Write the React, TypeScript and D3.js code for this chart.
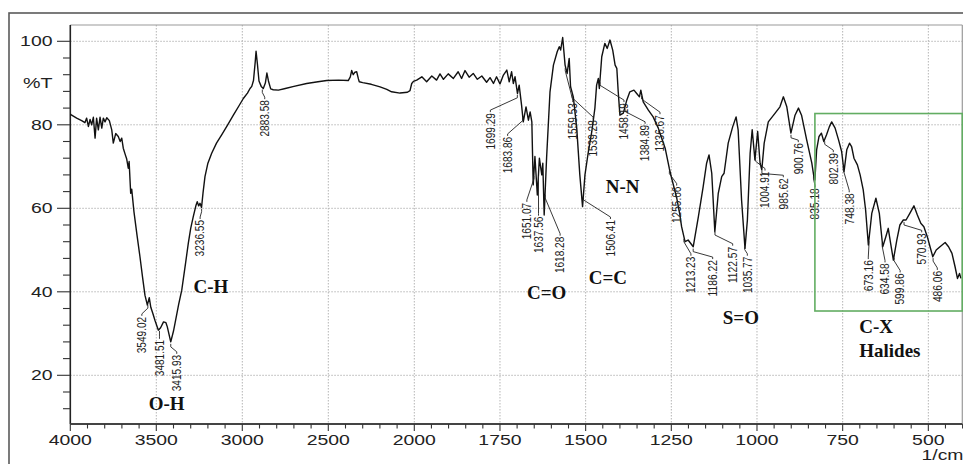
import React from "react";
import * as d3 from "d3";

// ---- Spectrum data (wavenumber 1/cm, %T) ----
const wavenumbers = [
  4000, 3992, 3963, 3934, 3915, 3905, 3895, 3885, 3876, 3866, 3856, 3847, 3837, 3827, 3817, 3808, 3798, 3788, 3773,
  3759, 3750, 3736, 3721, 3710, 3701, 3692, 3680, 3672, 3663, 3658, 3649, 3643, 3630, 3612, 3595, 3580, 3566, 3552,
  3541, 3532, 3520, 3508, 3488, 3475, 3458, 3444, 3436, 3416, 3400, 3391, 3370, 3352, 3330, 3314, 3300, 3285, 3270,
  3262, 3254, 3246, 3237, 3228, 3217, 3200, 3178, 3150, 3120, 3085, 3052, 3020, 2994, 2970, 2955, 2945, 2935, 2925,
  2920, 2912, 2903, 2890, 2878, 2866, 2857, 2848, 2835, 2820, 2790, 2750, 2700, 2626, 2560, 2509, 2440, 2384, 2372,
  2364, 2355, 2345, 2335, 2325, 2320, 2300, 2250, 2199, 2160, 2132, 2083, 2040, 2025, 2015, 2005, 1993, 1978, 1964,
  1949, 1935, 1925, 1915, 1901, 1886, 1872, 1862, 1852, 1840, 1828, 1816, 1803, 1789, 1779, 1769, 1760, 1750, 1740,
  1730, 1723, 1716, 1711, 1706, 1699, 1694, 1687, 1682, 1674, 1667, 1662, 1657, 1653, 1648, 1641, 1635, 1628, 1625,
  1621, 1614, 1604, 1594, 1583, 1577, 1573, 1567, 1560, 1554, 1548, 1544, 1536, 1526, 1517, 1509, 1502, 1492, 1482,
  1473, 1468, 1463, 1460, 1453, 1444, 1437, 1429, 1421, 1414, 1409, 1405, 1400, 1390, 1380, 1371, 1359, 1351, 1343,
  1339, 1332, 1317, 1303, 1288, 1268, 1256, 1249, 1234, 1225, 1220, 1210, 1201, 1186, 1171, 1157, 1147, 1140, 1132,
  1123, 1113, 1103, 1096, 1084, 1071, 1061, 1055, 1045, 1035, 1028, 1020, 1014, 1006, 998, 991, 986, 979, 967, 947,
  933, 923, 913, 901, 889, 879, 870, 855, 840, 834, 831, 826, 819, 812, 805, 797, 789, 782, 772, 762, 753, 746, 738,
  730, 724, 717, 707, 699, 690, 683, 675, 665, 653, 643, 633, 624, 617, 610, 602, 592, 583, 573, 565, 554, 542, 532,
  522, 513, 503, 495, 487, 477, 466, 451, 441, 431, 422, 415, 409, 405,
];
const transmittance = [
  82.6, 82.3, 81.6, 81.0, 80.5, 81.6, 79.6, 81.3, 80.0, 81.8, 76.8, 81.6, 78.8, 81.8, 79.2, 81.6, 80.7, 81.7, 81.0,
  78.8, 75.6, 77.9, 77.2, 76.0, 76.8, 74.4, 72.8, 71.8, 69.6, 71.2, 63.6, 64.6, 59.2, 53.5, 48.4, 43.5, 39.2, 36.8,
  38.6, 36.3, 34.8, 33.2, 30.8, 31.4, 32.8, 32.6, 31.6, 28.0, 30.6, 32.5, 37.0, 40.4, 46.8, 51.6, 55.2, 58.0, 60.6,
  61.6, 60.6, 61.2, 60.2, 63.8, 67.6, 70.8, 73.2, 75.6, 77.6, 80.0, 82.3, 84.5, 86.3, 87.6, 88.7, 89.2, 90.6, 95.0,
  97.6, 94.5, 90.5, 89.2, 88.7, 90.0, 92.4, 90.5, 88.6, 88.4, 88.3, 88.7, 89.2, 89.9, 90.3, 90.6, 90.7, 90.6, 91.5,
  93.0, 92.0, 92.6, 92.7, 91.0, 90.3, 90.1, 89.7, 89.1, 88.5, 87.9, 87.6, 87.8, 88.2, 89.9, 90.4, 90.7, 91.5, 90.3,
  91.7, 90.7, 92.2, 90.9, 92.2, 91.1, 92.7, 91.1, 93.0, 91.4, 92.3, 90.9, 91.7, 90.2, 91.3, 89.9, 91.5, 89.8, 91.9,
  93.1, 90.3, 92.7, 89.9, 91.5, 87.5, 89.5, 84.7, 80.7, 84.3, 81.1, 83.1, 80.7, 65.6, 72.4, 63.2, 72.0, 68.0, 70.8,
  58.4, 72.0, 87.9, 94.3, 97.5, 98.7, 97.9, 100.9, 94.3, 92.3, 95.9, 89.1, 86.7, 79.2, 68.0, 60.4, 68.0, 73.6, 78.4,
  84.0, 89.5, 91.1, 88.7, 96.3, 99.5, 98.3, 100.3, 97.9, 94.3, 93.5, 88.0, 82.3, 82.8, 85.9, 87.9, 88.3, 87.5, 86.7,
  88.3, 85.5, 83.5, 81.9, 79.2, 74.4, 69.6, 67.2, 62.4, 58.4, 55.6, 52.0, 52.4, 50.8, 58.0, 65.2, 70.8, 72.8, 68.4,
  54.4, 63.6, 67.6, 68.4, 75.6, 79.5, 81.9, 78.8, 62.0, 50.4, 57.2, 73.2, 78.8, 71.6, 78.4, 70.8, 69.2, 75.6, 80.7, 82.8,
  84.3, 86.7, 84.3, 78.0, 82.3, 84.0, 82.3, 76.4, 70.8, 67.6, 66.8, 74.0, 77.2, 78.0, 76.0, 77.6, 79.5, 80.7, 79.2, 76.4, 73.6, 68.8, 74.0,
  75.6, 74.8, 72.0, 70.4, 68.0, 64.4, 59.6, 51.2, 58.8, 62.4, 58.8, 50.8, 53.2, 55.2, 51.6, 47.6, 52.4, 56.0, 57.2, 57.2, 58.8, 60.6, 58.4,
  56.4, 55.6, 53.2, 50.8, 48.4, 50.0, 50.8, 51.8, 50.8, 49.2, 46.0, 43.2, 44.4, 43.2,
];

// ---- Axis ticks ----
const xTickValues = [4000, 3500, 3000, 2500, 2000, 1750, 1500, 1250, 1000, 750, 500];
const yTickValues = [100, 80, 60, 40, 20];
const yAxisTitle = "%T";
const xAxisUnit = "1/cm";

// ---- Peak labels ----
const peakLabels = [
  "3549.02", "3481.51", "3415.93", "3236.55", "2883.58", "1699.29", "1683.86", "1651.07", "1637.56", "1618.28",
  "1559.53", "1539.28", "1506.41", "1458.19", "1384.89", "1336.67", "1255.66", "1213.23", "1186.22", "1122.57",
  "1035.77", "1004.91", "985.62", "900.76", "835.18", "802.39", "748.38", "673.16", "634.58", "599.86", "570.93", "486.06",
];
// layout: horizontal offset (px) of the label from the peak, and the %T level of the label's top end
const peakLabelDx = [-6, 0, 6, -1.5, 2.4, -27, -15, -7, 0, 15, 7.5, 21, 27, 24, 20, 18.4, 7.3, 7, 19.5, 17.7, 2.6, 9.7, 21.4, 7.3, 1.5, 8.6, 6, -0.7, 2.8, 6, 17.7, 4.2];
const peakLabelTopT = [34.0, 28.5, 24.9, 57.2, 85.9, 82.8, 77.1, 61.3, 58.0, 53.2, 85.2, 81.1, 57.2, 85.2, 80.0, 82.3, 65.2, 48.4, 47.6, 50.8, 48.4, 68.8, 67.2, 75.6, 64.8, 73.2, 63.6, 47.6, 46.8, 44.4, 54.0, 45.0];

// ---- Functional group annotations ----
const groupNames = ["O-H", "C-H", "C=O", "C=C", "N-N", "S=O", "C-X", "Halides"];
const groupWn = [3440, 3183, 1614, 1435, 1392, 1047, 701.5, 701.5];
const groupT = [11.7, 39.6, 38.2, 41.9, 63.6, 32.3, 30.1, 24.5];
const groupAnchor = ["middle", "middle", "middle", "middle", "middle", "middle", "start", "start"];

// Highlight region (halides)
const halideBoxWn = [831, 401];
const halideBoxT = [82.7, 35.4];

const W = 963;
const H = 464;

export default function App() {
  const x = d3.scaleLinear().domain([4000, 2000, 400]).range([70.3, 414.3, 962.6]);
  const y = d3.scaleLinear().domain([100, 20]).range([41.3, 375.3]);
  const plotLeft = 70.3;
  const plotRight = 962.3;
  const plotTop = 25;
  const plotBottom = 424;

  const pts = wavenumbers.map((w, i) => [w, transmittance[i]] as [number, number]);
  const line = d3
    .line<[number, number]>()
    .x((d) => x(d[0]))
    .y((d) => y(d[1]))
    .curve(d3.curveLinear);

  const asc = pts.slice().sort((a, b) => a[0] - b[0]);
  const bis = d3.bisector((d: [number, number]) => d[0]).left;
  const tAt = (w: number) => {
    const i = Math.max(1, Math.min(asc.length - 1, bis(asc, w)));
    const a = asc[i - 1];
    const b = asc[i];
    const f = (w - a[0]) / (b[0] - a[0]);
    return a[1] + f * (b[1] - a[1]);
  };

  const minorX: number[] = [];
  for (let v = 4000; v > 2000; v -= 100) minorX.push(v);
  for (let v = 2000; v >= 400; v -= 50) minorX.push(v);
  const minorY: number[] = [];
  for (let v = 12; v <= 100; v += 4) minorY.push(v);

  const tickFont = "'Liberation Sans', Arial, sans-serif";

  return (
    <svg width={W} height={H} style={{ position: "absolute", left: 0, top: 0, display: "block", background: "#fff" }}>
      {/* outer frame */}
      <rect x={9} y={13} width={970} height={470} fill="none" stroke="#5a5a5a" strokeWidth={1.6} />

      {/* grid */}
      {xTickValues.slice(1).map((v) => (
        <line key={"gx" + v} x1={x(v)} x2={x(v)} y1={plotTop} y2={plotBottom} stroke="#b5b5b5" strokeWidth={1} strokeDasharray="1.5,1.5" />
      ))}
      {yTickValues.map((v) => (
        <line key={"gy" + v} x1={plotLeft} x2={plotRight} y1={y(v)} y2={y(v)} stroke="#b5b5b5" strokeWidth={1} strokeDasharray="1.5,1.5" />
      ))}

      {/* plot border top / right */}
      <line x1={plotLeft} x2={plotRight} y1={plotTop} y2={plotTop} stroke="#9a9a9a" strokeWidth={1.2} />
      <line x1={plotRight} x2={plotRight} y1={plotTop} y2={plotBottom} stroke="#9a9a9a" strokeWidth={1.2} />

      {/* axes */}
      <line x1={plotLeft} x2={plotLeft} y1={plotTop} y2={plotBottom} stroke="#222" strokeWidth={1.6} />
      <line x1={plotLeft} x2={plotRight} y1={plotBottom} y2={plotBottom} stroke="#444" strokeWidth={1.8} />

      {minorY.map((v) => (
        <line key={"my" + v} x1={yTickValues.includes(v) ? 57 : 63} x2={plotLeft} y1={y(v)} y2={y(v)} stroke="#333" strokeWidth={1.1} />
      ))}
      {minorX.map((v) => (
        <line key={"mx" + v} x1={x(v)} x2={x(v)} y1={plotBottom} y2={plotBottom + (xTickValues.includes(v) ? 7 : 4.5)} stroke="#333" strokeWidth={1.1} />
      ))}

      {yTickValues.map((v) => (
        <text key={"ty" + v} x={52.5} y={y(v) + 5} textAnchor="end" fontFamily={tickFont} fontSize={14} fill="#222"
          textLength={String(v).length * 10.8} lengthAdjust="spacingAndGlyphs">{v}</text>
      ))}
      <text x={52.5} y={87.5} textAnchor="end" fontFamily={tickFont} fontSize={14} fill="#222" textLength={29.5} lengthAdjust="spacingAndGlyphs">{yAxisTitle}</text>

      {xTickValues.map((v) => (
        <text key={"tx" + v} x={x(v)} y={445} textAnchor="middle" fontFamily={tickFont} fontSize={14} fill="#222"
          textLength={String(v).length * 10.8} lengthAdjust="spacingAndGlyphs">{v}</text>
      ))}
      <text x={963.5} y={460} textAnchor="end" fontFamily={tickFont} fontSize={14} fill="#222" textLength={42} lengthAdjust="spacingAndGlyphs">{xAxisUnit}</text>

      {/* spectrum */}
      <path d={line(pts) || ""} fill="none" stroke="#111" strokeWidth={1.4} strokeLinejoin="round" />

      {/* peak labels */}
      {peakLabels.map((lab, i) => {
        const w = parseFloat(lab);
        const px = x(w);
        const cy = y(tAt(w));
        const tx = px + peakLabelDx[i];
        const top = y(peakLabelTopT[i]);
        const mid = Math.min(cy + 5, top - 3);
        const d = `M${px},${cy + 2}L${px},${mid}L${tx},${top - 3}L${tx},${top - 1}`;
        return (
          <g key={"pl" + i}>
            <path d={d} fill="none" stroke="#222" strokeWidth={0.9} />
            <text transform={`translate(${tx + 4.3},${top}) rotate(-90)`} textAnchor="end" fontFamily={tickFont} fontSize={12}
              fill="#222" textLength={lab.length * 5.2} lengthAdjust="spacingAndGlyphs">{lab}</text>
          </g>
        );
      })}

      {/* halides box */}
      <rect x={x(halideBoxWn[0])} y={y(halideBoxT[0])} width={x(halideBoxWn[1]) - x(halideBoxWn[0])} height={y(halideBoxT[1]) - y(halideBoxT[0])}
        fill="none" stroke="#62ad62" strokeWidth={1.6} />

      {/* group annotations */}
      {groupNames.map((g, i) => (
        <text key={"g" + i} x={x(groupWn[i])} y={y(groupT[i])} textAnchor={groupAnchor[i] as any}
          fontFamily="'Liberation Serif', 'Times New Roman', serif" fontWeight="bold" fontSize={19} fill="#111">{g}</text>
      ))}
    </svg>
  );
}
